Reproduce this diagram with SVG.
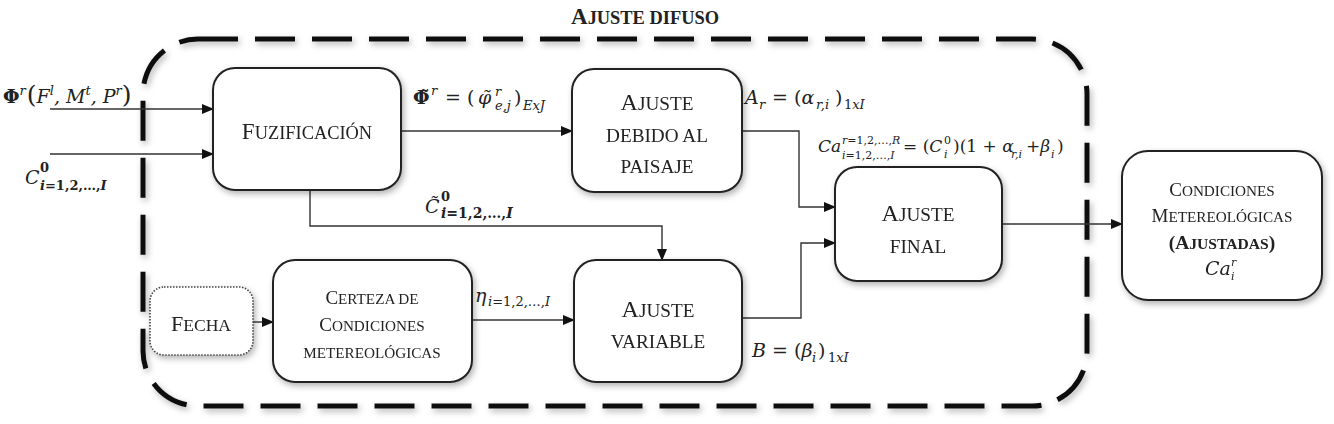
<svg xmlns="http://www.w3.org/2000/svg" width="1334" height="424" viewBox="0 0 1334 424">
<style>
.sc{font-family:"Liberation Serif",serif;fill:#222;text-anchor:middle}
.m{font-family:"DejaVu Serif",serif;font-style:italic;fill:#222}
.u{font-style:normal}
.node{fill:#fff;stroke:#222;stroke-width:2}
.ln{fill:none;stroke:#333;stroke-width:1.4}
</style>
<defs>
<filter id="sh" x="-20%" y="-20%" width="140%" height="140%">
<feDropShadow dx="2" dy="3" stdDeviation="3" flood-color="#000" flood-opacity="0.3"/>
</filter>
<marker id="ar" markerWidth="12" markerHeight="10" refX="11" refY="5" orient="auto" markerUnits="userSpaceOnUse">
<path d="M0,0 L12,5 L0,10 Z" fill="#111"/>
</marker>
</defs>
<rect width="1334" height="424" fill="#fff"/>

<g id="frame">
<text x="645" y="24" class="sc" font-size="23" font-weight="bold">A<tspan font-size="18.4">JUSTE DIFUSO</tspan></text>
<rect x="143" y="39" width="944" height="367" rx="55" ry="55" fill="none" stroke="#111" stroke-width="5" stroke-dasharray="40 17" filter="url(#sh)"/>
</g>

<g id="connectors">
<line class="ln" x1="50" y1="109" x2="213" y2="109" marker-end="url(#ar)"/>
<line class="ln" x1="50" y1="154" x2="213" y2="154" marker-end="url(#ar)"/>
<line class="ln" x1="401" y1="131" x2="572" y2="131" marker-end="url(#ar)"/>
<polyline class="ln" points="310,190 310,226 662,226 662,260" marker-end="url(#ar)"/>
<polyline class="ln" points="742,131 799,131 799,207 835,207" marker-end="url(#ar)"/>
<polyline class="ln" points="742,318 801,318 801,243 835,243" marker-end="url(#ar)"/>
<line class="ln" x1="1002" y1="224" x2="1122" y2="224" marker-end="url(#ar)"/>
<line class="ln" x1="253" y1="322" x2="273" y2="322" marker-end="url(#ar)"/>
<line class="ln" x1="472" y1="320" x2="574" y2="320" marker-end="url(#ar)"/>
</g>

<g id="labels">
<text class="m" x="3" y="103" font-size="19"><tspan class="u" font-weight="bold">Φ</tspan><tspan font-size="13" dy="-8">r</tspan><tspan class="u" font-size="25" dy="8" dx="1">(</tspan><tspan>F</tspan><tspan font-size="13" dy="-8">l</tspan><tspan dy="8">, M</tspan><tspan font-size="13" dy="-8">t</tspan><tspan dy="8">, P</tspan><tspan font-size="13" dy="-8">r</tspan><tspan class="u" font-size="25" dy="8">)</tspan></text>

<text class="m" x="25" y="184" font-size="19">C</text>
<text class="m u" x="40" y="172" font-size="13" font-weight="bold">0</text>
<text class="m" x="40" y="190" font-size="13" font-weight="bold">i<tspan class="u">=1,2,…,</tspan>I</text>

<text class="m u" x="413" y="104" font-size="19" font-weight="bold">Φ̃</text>
<text class="m" x="431" y="95" font-size="13">r</text>
<text class="m u" x="445" y="104" font-size="19">=  (</text>
<text class="m" x="478" y="104" font-size="19">φ̃</text>
<text class="m" x="495" y="96" font-size="13">r</text>
<text class="m" x="495" y="110" font-size="13">e,j</text>
<text class="m u" x="514" y="104" font-size="19">)</text>
<text class="m" x="523" y="110" font-size="13">ExJ</text>

<text class="m" x="745" y="104" font-size="19">A</text>
<text class="m" x="759" y="109" font-size="13">r</text>
<text class="m" x="772" y="104" font-size="19"><tspan class="u">=  (</tspan>α</text>
<text class="m" x="816" y="109" font-size="13">r,i</text>
<text class="m u" x="835" y="104" font-size="19">)</text>
<text class="m" x="844" y="109" font-size="13"><tspan class="u">1</tspan>xI</text>

<text class="m" x="818" y="152" font-size="17">Ca</text>
<text class="m" x="842" y="144" font-size="11">r<tspan class="u">=1,2,…,</tspan>R</text>
<text class="m" x="842" y="159" font-size="11">i<tspan class="u">=1,2,…,</tspan>I</text>
<text class="m" x="903" y="152" font-size="17"><tspan class="u">= (</tspan>C</text>
<text class="m u" x="944" y="144" font-size="11">0</text>
<text class="m" x="944" y="158" font-size="11">i</text>
<text class="m u" x="953" y="152" font-size="17">)(1 + <tspan class="m">α</tspan></text>
<text class="m" x="1011" y="158" font-size="11">r,i</text>
<text class="m" x="1026" y="152" font-size="17"><tspan class="u">+</tspan>β</text>
<text class="m" x="1051" y="158" font-size="11">i</text>
<text class="m u" x="1057" y="152" font-size="17">)</text>

<text class="m" x="425" y="213" font-size="19">C̃</text>
<text class="m u" x="441" y="201" font-size="13" font-weight="bold">0</text>
<text class="m" x="441" y="218" font-size="14" font-weight="bold">i<tspan class="u">=1,2,…,</tspan>I</text>

<text class="m" x="475" y="302" font-size="19">η</text>
<text class="m" x="488" y="306" font-size="13">i<tspan class="u">=1,2,…,</tspan>I</text>

<text class="m" x="752" y="357" font-size="19">B <tspan class="u">=  (</tspan>β</text>
<text class="m" x="812" y="362" font-size="13">i</text>
<text class="m u" x="818" y="357" font-size="19">)</text>
<text class="m" x="828" y="362" font-size="13"><tspan class="u">1</tspan>xI</text>
</g>

<g id="n-fuz" filter="url(#sh)">
<rect class="node" x="213" y="68" width="188" height="122" rx="22"/>
<text class="sc" x="307" y="139" font-size="23">F<tspan font-size="18.4">UZIFICACIÓN</tspan></text>
</g>
<g id="n-paisaje" filter="url(#sh)">
<rect class="node" x="572" y="69" width="170" height="123" rx="22"/>
<text class="sc" x="657" y="110" font-size="24">A<tspan font-size="19.2">JUSTE</tspan></text>
<text class="sc" x="657" y="142" font-size="19.2">DEBIDO AL</text>
<text class="sc" x="657" y="173" font-size="19.2">PAISAJE</text>
</g>
<g id="n-final" filter="url(#sh)">
<rect class="node" x="835" y="167" width="167" height="114" rx="22"/>
<text class="sc" x="918" y="221" font-size="24">A<tspan font-size="19.2">JUSTE</tspan></text>
<text class="sc" x="918" y="253" font-size="19.2">FINAL</text>
</g>
<g id="n-cond" filter="url(#sh)">
<rect class="node" x="1122" y="151" width="200" height="149" rx="26"/>
<text class="sc" x="1222" y="196" font-size="19">C<tspan font-size="15.2">ONDICIONES</tspan></text>
<text class="sc" x="1222" y="222" font-size="19">M<tspan font-size="15.2">ETEREOLÓGICAS</tspan></text>
<text class="sc" x="1222" y="249" font-size="19.5" font-weight="bold">(A<tspan font-size="15.6">JUSTADAS</tspan>)</text>
<text class="m" x="1205" y="275" font-size="19">Ca</text>
<text class="m" x="1231" y="266" font-size="11">r</text>
<text class="m" x="1231" y="280" font-size="11">i</text>
</g>
<g id="n-fecha" filter="url(#sh)">
<rect x="150" y="287" width="103" height="68" rx="14" fill="#fff" stroke="#444" stroke-width="1.6" stroke-dasharray="1.5 1.5"/>
<text class="sc" x="201" y="331" font-size="22">F<tspan font-size="17.6">ECHA</tspan></text>
</g>
<g id="n-certeza" filter="url(#sh)">
<rect class="node" x="273" y="260" width="199" height="122" rx="22"/>
<text class="sc" x="372" y="304" font-size="19">C<tspan font-size="15.2">ERTEZA DE</tspan></text>
<text class="sc" x="372" y="331" font-size="19">C<tspan font-size="15.2">ONDICIONES</tspan></text>
<text class="sc" x="372" y="358" font-size="15.2">METEREOLÓGICAS</text>
</g>
<g id="n-variable" filter="url(#sh)">
<rect class="node" x="574" y="260" width="168" height="122" rx="22"/>
<text class="sc" x="658" y="317" font-size="24">A<tspan font-size="19.2">JUSTE</tspan></text>
<text class="sc" x="658" y="348" font-size="19.2">VARIABLE</text>
</g>
</svg>
